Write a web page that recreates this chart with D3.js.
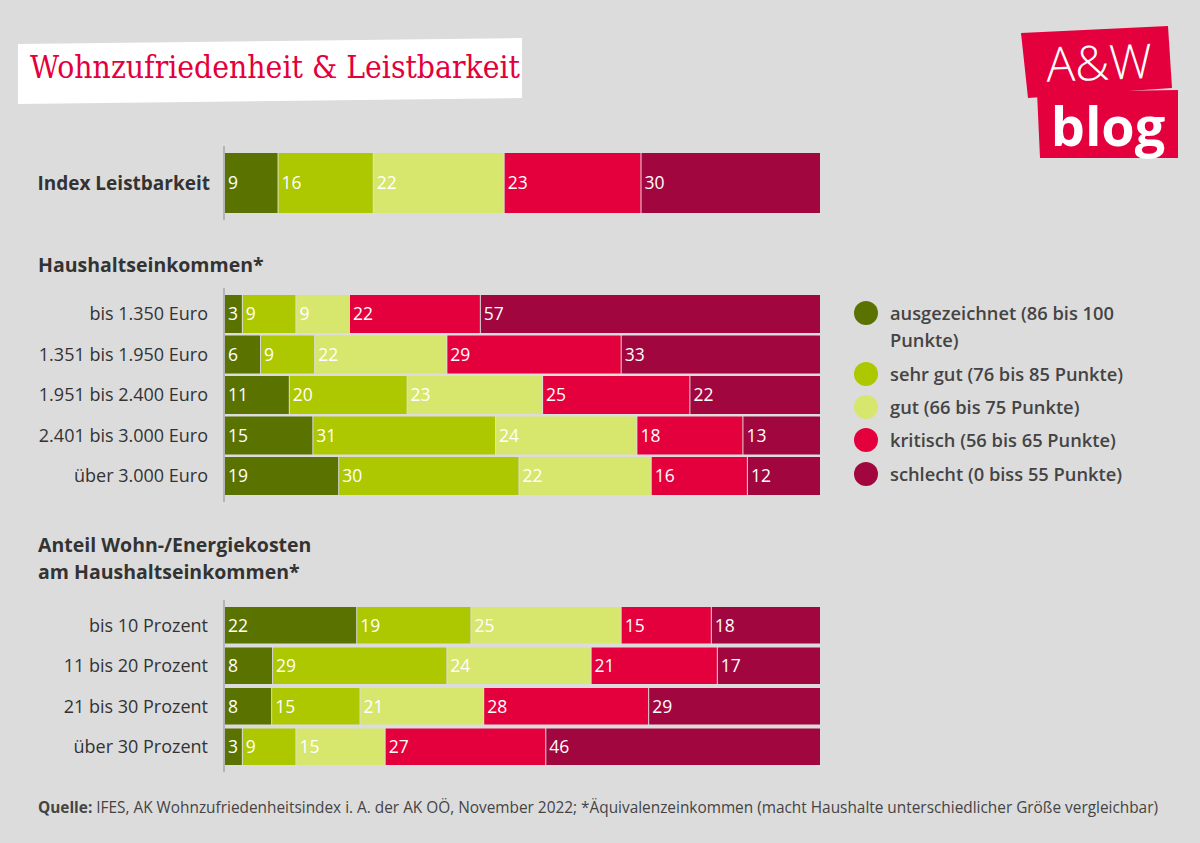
<!DOCTYPE html>
<html><head><meta charset="utf-8">
<script src="https://cdn.jsdelivr.net/npm/d3@7"></script>
<style>
html,body{margin:0;padding:0;background:#dcdcdc;}
svg{display:block;}
text{font-family:"Open Sans","Noto Sans",sans-serif;}
</style></head>
<body><svg id="c" width="1200" height="843"></svg>
<script>
const seriesNames = ["ausgezeichnet (86 bis 100 Punkte)","sehr gut (76 bis 85 Punkte)","gut (66 bis 75 Punkte)","kritisch (56 bis 65 Punkte)","schlecht (0 biss 55 Punkte)"];
const colors = ["#5a7300","#adc700","#d7e66c","#e4003c","#a1063e"];

const indexCategories = ["Index Leistbarkeit"];
const indexValues = [[9,16,22,23,30]];

const incomeCategories = ["bis 1.350 Euro","1.351 bis 1.950 Euro","1.951 bis 2.400 Euro","2.401 bis 3.000 Euro","über 3.000 Euro"];
const incomeValues = [
  [3,9,9,22,57],
  [6,9,22,29,33],
  [11,20,23,25,22],
  [15,31,24,18,13],
  [19,30,22,16,12]
];

const costCategories = ["bis 10 Prozent","11 bis 20 Prozent","21 bis 30 Prozent","über 30 Prozent"];
const costValues = [
  [22,19,25,15,18],
  [8,29,24,21,17],
  [8,15,21,28,29],
  [3,9,15,27,46]
];

const svg = d3.select("#c");
const W = 1200, H = 843;
svg.append("rect").attr("width",W).attr("height",H).attr("fill","#dcdcdc");

// title box
svg.append("polygon").attr("points","18,44 522,38 522,98 18,104").attr("fill","#ffffff");
svg.append("text").attr("x",30).attr("y",78).attr("fill","#e4003c")
  .style("font-family","'DejaVu Serif',serif").style("font-size","32px")
  .attr("textLength",490).attr("lengthAdjust","spacingAndGlyphs")
  .text("Wohnzufriedenheit & Leistbarkeit");

// logo
const logo = svg.append("g");
logo.append("polygon").attr("points","1021,33 1168,26 1172,88 1028,98").attr("fill","#e4003c");
logo.append("polygon").attr("points","1037,92 1178,90 1178,158 1040,158").attr("fill","#e4003c");
logo.append("text").attr("x",1099).attr("y",80).attr("text-anchor","middle").attr("fill","#fff")
  .style("font-family","'Open Sans',sans-serif").style("font-size","48px").style("font-weight","300")
  .attr("transform","rotate(-2 1097 62)").text("A&W");
logo.append("text").attr("x",1108).attr("y",146).attr("text-anchor","middle").attr("fill","#fff")
  .style("font-family","'Open Sans',sans-serif").style("font-size","54px").style("font-weight","700")
  .text("blog");

const x = d3.scaleLinear().domain([0,1]).range([225,820]);

function drawGroup(cats, vals, top, step, barH, labelStyle){
  const n = cats.length;
  const p = (step-barH)/step;
  const y = d3.scaleBand().domain(cats).range([top, top + step*(n-1) + barH]).paddingInner(p).paddingOuter(0);
  const g = svg.append("g");
  g.append("line").attr("x1",224).attr("x2",224)
    .attr("y1",top-7).attr("y2",top + step*(n-1) + barH + 7)
    .attr("stroke","#b4b4b4").attr("stroke-width",2);
  cats.forEach((c,i)=>{
    const row = vals[i];
    const total = d3.sum(row);
    const stack = d3.cumsum(row).map(v=>v/total);
    const starts = [0, ...stack.slice(0,-1)];
    const yy = y(c), bh = y.bandwidth();
    row.forEach((v,j)=>{
      g.append("rect").attr("x",x(starts[j])).attr("y",yy)
        .attr("width",Math.max(0,x(stack[j])-x(starts[j]) - (j<row.length-1?1:0)))
        .attr("height",bh).attr("fill",colors[j]);
      g.append("text").attr("x",x(starts[j])+3).attr("y",yy+bh/2).attr("dy","0.36em")
        .attr("fill","#fff").style("font-size","17.5px").text(v);
    });
    g.append("text").attr("x",labelStyle.x).attr("y",yy+bh/2).attr("dy","0.36em")
      .attr("text-anchor",labelStyle.anchor).attr("fill","#333")
      .style("font-size",labelStyle.size).style("font-weight",labelStyle.weight).text(c);
  });
}

drawGroup(indexCategories, indexValues, 153, 60, 60, {x:210, anchor:"end", size:"19px", weight:"700"});
drawGroup(incomeCategories, incomeValues, 295, 40.5, 38, {x:208, anchor:"end", size:"18px", weight:"400"});
drawGroup(costCategories, costValues, 607, 40.5, 36.5, {x:208, anchor:"end", size:"18px", weight:"400"});

// headings
const head = svg.append("g").attr("fill","#333").style("font-size","19.5px").style("font-weight","700");
head.append("text").attr("x",38).attr("y",272).text("Haushaltseinkommen*");
head.append("text").attr("x",38).attr("y",552).text("Anteil Wohn-/Energiekosten");
head.append("text").attr("x",38).attr("y",579).text("am Haushaltseinkommen*");

// legend
const legendY = [313,374,407,440,474];
const lg = svg.append("g");
seriesNames.forEach((n,i)=>{
  lg.append("circle").attr("cx",866).attr("cy",legendY[i]).attr("r",12).attr("fill",colors[i]);
  const t = lg.append("text").attr("x",890).attr("y",legendY[i]).attr("dy","0.36em")
    .attr("fill","#444").style("font-size","18.3px").style("font-weight","600");
  if(i===0){
    t.append("tspan").attr("x",890).text("ausgezeichnet (86 bis 100");
    t.append("tspan").attr("x",890).attr("dy","27").text("Punkte)");
  } else t.text(n);
});

// footer
const f = svg.append("text").attr("x",38).attr("y",813).attr("fill","#444").style("font-size","16px")
  .attr("textLength",1120).attr("lengthAdjust","spacingAndGlyphs");
f.append("tspan").style("font-weight","700").text("Quelle:");
f.append("tspan").text(" IFES, AK Wohnzufriedenheitsindex i. A. der AK OÖ, November 2022; *Äquivalenzeinkommen (macht Haushalte unterschiedlicher Größe vergleichbar)");
</script></body></html>
